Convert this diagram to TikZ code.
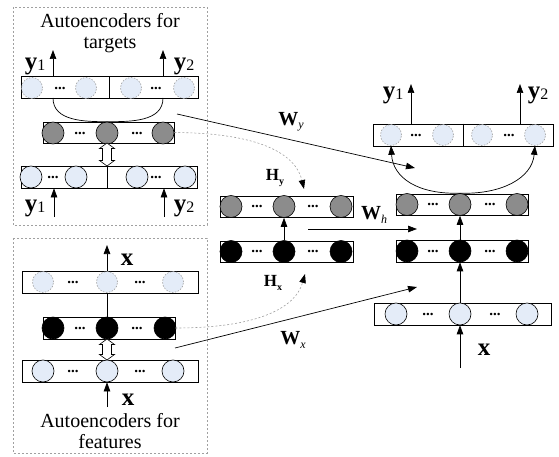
\documentclass[tikz,border=0pt]{standalone}
\usepackage{fontspec}
\setmainfont{Liberation Serif}
\usetikzlibrary{arrows.meta}
\definecolor{unitblue}{RGB}{228,236,248}
\definecolor{unitgray}{RGB}{140,140,140}
\definecolor{framegray}{RGB}{160,160,160}
% bold vector with upright subscript
\newcommand{\vlab}[2]{{\fontsize{25}{25}\selectfont\bfseries #1}\raisebox{-0.3ex}{\fontsize{16}{16}\selectfont #2}}
% weight matrix W with italic subscript
\newcommand{\wlab}[1]{{\fontsize{20}{20}\selectfont\bfseries W}\raisebox{-0.7ex}{\fontsize{12}{12}\selectfont\itshape #1}}
% hidden mapping H with bold subscript
\newcommand{\hlab}[1]{{\fontsize{17}{17}\selectfont\bfseries H}\raisebox{-0.7ex}{\fontsize{10}{10}\selectfont\bfseries #1}}
\begin{document}
\begin{tikzpicture}[x=1pt,y=-1pt,
  rowbox/.style={draw, line width=0.7pt, fill=white, inner sep=0pt, minimum height=22pt},
  ucirc/.style={circle, inner sep=0pt, minimum size=22pt, line width=0.6pt},
  dcirc/.style={ucirc, draw=framegray, dashed, dash pattern=on 1.5pt off 1.5pt, fill=unitblue, minimum size=21pt},
  lcirc/.style={ucirc, draw=black, fill=unitblue},
  gcirc/.style={ucirc, draw=black, fill=unitgray},
  kcirc/.style={ucirc, draw=black, fill=black},
  dots/.style={inner sep=0pt, font=\fontsize{15}{15}\selectfont\bfseries},
  arr/.style={line width=0.7pt, -{Triangle[length=9pt,width=6.5pt]}},
  plain/.style={line width=0.7pt},
  hmap/.style={draw=framegray, line width=0.6pt, dash pattern=on 2pt off 2pt,
    -{Triangle[length=9pt,width=6.5pt,fill=black,color=black]}},
  frame/.style={draw=framegray, line width=0.6pt, dash pattern=on 2pt off 2pt},
  title/.style={inner sep=0pt, align=center, font=\fontsize{20}{21}\selectfont},
  % hollow two-headed arrow between an autoencoder's input and hidden rows
  pics/hollowdbl/.style={code={
    \draw[fill=white, line width=0.6pt]
      (0,{-#1/2}) -- (7.5,{-#1/2+5.5}) -- (4.5,{-#1/2+5.5}) -- (4.5,{#1/2-5.5})
      -- (7.5,{#1/2-5.5}) -- (0,{#1/2}) -- (-7.5,{#1/2-5.5}) -- (-4.5,{#1/2-5.5})
      -- (-4.5,{-#1/2+5.5}) -- (-7.5,{-#1/2+5.5}) -- cycle;
  }}
]
\useasboundingbox (0,0) rectangle (559,457);

% ---------- autoencoders for targets ----------
\draw[frame] (13,7) rectangle (207,225);
\node[title] (tgt) at (110,33) {Autoencoders for\\targets};

\node[rowbox, minimum width=177pt] (tl_out) at (109.5,87.5) {};
\draw[plain] (tl_out.north) -- (tl_out.south);
\node[dcirc] (tlo1) at (32,88) {};
\node[dcirc] (tlo2) at (86,88) {};
\node[dcirc] (tlo3) at (131,88) {};
\node[dcirc] (tlo4) at (184,88) {};
\node[dots] (tlod1) at (60,88) {...};
\node[dots] (tlod2) at (156,88) {...};

\node[rowbox, minimum width=131pt, minimum height=21pt] (tl_hid) at (108.5,132.5) {};
\node[gcirc] (tlh1) at (53,133) {};
\node[gcirc] (tlh2) at (107,133) {};
\node[gcirc] (tlh3) at (163,133) {};
\node[dots] (tlhd1) at (80,133) {...};
\node[dots] (tlhd2) at (137,133) {...};

\node[rowbox, minimum width=176pt] (tl_in) at (109,177) {};
\draw[plain] ([xshift=-2pt]tl_in.north) -- ([xshift=-2pt]tl_in.south);
\node[lcirc] (tli1) at (31,177) {};
\node[lcirc] (tli2) at (76,177) {};
\node[lcirc] (tli3) at (137,177) {};
\node[lcirc] (tli4) at (185,177) {};
\node[dots] (tlid1) at (53,177) {...};
\node[dots] (tlid2) at (156,177) {...};

\pic at (107,154.5) {hollowdbl=23};

% decoder split into the two target blocks
\draw[plain] (53,98) to[out=-90,in=180] (tlh2.north) to[out=0,in=-90] (163,98);

\coordinate (tl_y1o) at (53,50);
\coordinate (tl_y2o) at (163,50);
\draw[arr] (tl_y1o |- tl_out.north) -- (tl_y1o);
\draw[arr] (tl_y2o |- tl_out.north) -- (tl_y2o);
\node[inner sep=0pt] (tl_y1l) at (35,66) {\vlab{y}{1}};
\node[inner sep=0pt] (tl_y2l) at (184,66) {\vlab{y}{2}};

\coordinate (tl_y1i) at (54,217);
\coordinate (tl_y2i) at (164,217);
\draw[arr] (tl_y1i) -- (tl_y1i |- tl_in.south);
\draw[arr] (tl_y2i) -- (tl_y2i |- tl_in.south);
\node[inner sep=0pt] (tl_y1b) at (35,208) {\vlab{y}{1}};
\node[inner sep=0pt] (tl_y2b) at (184,208) {\vlab{y}{2}};

% ---------- autoencoders for features ----------
\draw[frame] (13,238) rectangle (207,453);

\node[rowbox, minimum width=176pt] (bl_out) at (110,282) {};
\node[dcirc] (blo1) at (43,282) {};
\node[dcirc] (blo2) at (107,282) {};
\node[dcirc] (blo3) at (173,282) {};
\node[dots] (blod1) at (73,282) {...};
\node[dots] (blod2) at (140,282) {...};

\node[rowbox, minimum width=132pt] (bl_hid) at (109,328) {};
\node[kcirc] (blh1) at (53,328) {};
\node[kcirc] (blh2) at (107,328) {};
\node[kcirc] (blh3) at (165,328) {};
\node[dots] (blhd1) at (80,328) {...};
\node[dots] (blhd2) at (137,328) {...};

\node[rowbox, minimum width=176pt] (bl_in) at (110,371) {};
\node[lcirc] (bli1) at (43,371) {};
\node[lcirc] (bli2) at (107,371) {};
\node[lcirc] (bli3) at (173,371) {};
\node[dots] (blid1) at (73,371) {...};
\node[dots] (blid2) at (140,371) {...};

\pic at (107,349.5) {hollowdbl=21};

\coordinate (bl_xo) at (107,245);
\draw[plain] (blh2.north) -- (blo2.south);
\draw[arr] (blo2.north) -- (bl_xo);
\node[inner sep=0pt] (bl_xl) at (127,260) {\vlab{x}{}};

\coordinate (bl_xi) at (107,407);
\draw[arr] (bl_xi) -- (bl_in.south -| bl_xi);
\node[inner sep=0pt] (bl_xb) at (128,400) {\vlab{x}{}};

\node[title] (fea) at (110,431) {Autoencoders for\\features};

% ---------- mapping between hidden layers ----------
\node[rowbox, minimum width=133pt, minimum height=21pt] (m_hy) at (286.5,206.5) {};
\node[gcirc] (mhy1) at (231,206.5) {};
\node[gcirc] (mhy2) at (284,206.5) {};
\node[gcirc] (mhy3) at (341,206.5) {};
\node[dots] (mhyd1) at (257,206.5) {...};
\node[dots] (mhyd2) at (313,206.5) {...};

\node[rowbox, minimum width=133pt, minimum height=21pt] (m_hx) at (286.5,251.5) {};
\node[kcirc] (mhx1) at (231,251.5) {};
\node[kcirc] (mhx2) at (284,251.5) {};
\node[kcirc] (mhx3) at (341,251.5) {};
\node[dots] (mhxd1) at (257,251.5) {...};
\node[dots] (mhxd2) at (313,251.5) {...};

\draw[arr] (mhx2.north) -- (mhy2.south);

\coordinate (hy_tip) at (304,189);
\coordinate (hx_tip) at (305,274);
\draw[hmap] (tl_hid.east) .. controls (262,133) and (296,155) .. (hy_tip);
\draw[hmap] (bl_hid.east) .. controls (262,328) and (296,306) .. (hx_tip);
\node[inner sep=0pt] (hyl) at (275,178) {\hlab{y}};
\node[inner sep=0pt] (hxl) at (273,283) {\hlab{x}};

% ---------- combined network ----------
\node[rowbox, minimum width=180pt] (r_out) at (463,135) {};
\draw[plain] (r_out.north) -- (r_out.south);
\node[dcirc] (ro1) at (391,135) {};
\node[dcirc] (ro2) at (443,135) {};
\node[dcirc] (ro3) at (482,135) {};
\node[dcirc] (ro4) at (535,135) {};
\node[dots] (rod1) at (416,135) {...};
\node[dots] (rod2) at (509,135) {...};

\node[rowbox, minimum width=132pt, minimum height=21pt] (r_hy) at (462,204.5) {};
\node[gcirc] (rhy1) at (407,204.5) {};
\node[gcirc] (rhy2) at (460,204.5) {};
\node[gcirc] (rhy3) at (517,204.5) {};
\node[dots] (rhyd1) at (433,204.5) {...};
\node[dots] (rhyd2) at (490,204.5) {...};

\node[rowbox, minimum width=132pt] (r_hx) at (462,251) {};
\node[kcirc] (rhx1) at (407,251) {};
\node[kcirc] (rhx2) at (460,251) {};
\node[kcirc] (rhx3) at (517,251) {};
\node[dots] (rhxd1) at (433,251) {...};
\node[dots] (rhxd2) at (490,251) {...};

\node[rowbox, minimum width=177pt] (r_in) at (462.5,314) {};
\node[lcirc] (ri1) at (396,314) {};
\node[lcirc] (ri2) at (460,314) {};
\node[lcirc] (ri3) at (527,314) {};
\node[dots] (rid1) at (428,314) {...};
\node[dots] (rid2) at (495,314) {...};

\draw[arr] (ri2.north) -- (rhx2.south);
\draw[arr] (rhx2.north) -- (rhy2.south);
\coordinate (r_xi) at (460,368);
\draw[arr] (r_xi) -- (ri2.south);
\node[inner sep=0pt] (r_xl) at (484,350) {\vlab{x}{}};

\draw[arr] (rhy2.north) .. controls (418,194.5) and (393,178) .. (ro1.south);
\draw[arr] (rhy2.north) .. controls (502,194.5) and (532,178) .. (ro4.south);

\coordinate (r_y1o) at (411,84);
\coordinate (r_y2o) at (520,84);
\draw[arr] (r_y1o |- r_out.north) -- (r_y1o);
\draw[arr] (r_y2o |- r_out.north) -- (r_y2o);
\node[inner sep=0pt] (r_y1l) at (393,95) {\vlab{y}{1}};
\node[inner sep=0pt] (r_y2l) at (538,95) {\vlab{y}{2}};

% ---------- transferred weights ----------
\coordinate (wy_from) at (177,114);
\coordinate (wy_to) at (415,168);
\draw[arr] (wy_from) -- (wy_to);
\node[inner sep=0pt] (wyl) at (291,122) {\wlab{y}};

\coordinate (wh_from) at (308,229);
\coordinate (wh_to) at (417,229);
\draw[arr] (wh_from) -- (wh_to);
\node[inner sep=0pt] (whl) at (374,215) {\wlab{h}};

\coordinate (wx_from) at (175,348);
\coordinate (wx_to) at (417,287);
\draw[arr] (wx_from) -- (wx_to);
\node[inner sep=0pt] (wxl) at (293,340) {\wlab{x}};
\end{tikzpicture}
\end{document}
